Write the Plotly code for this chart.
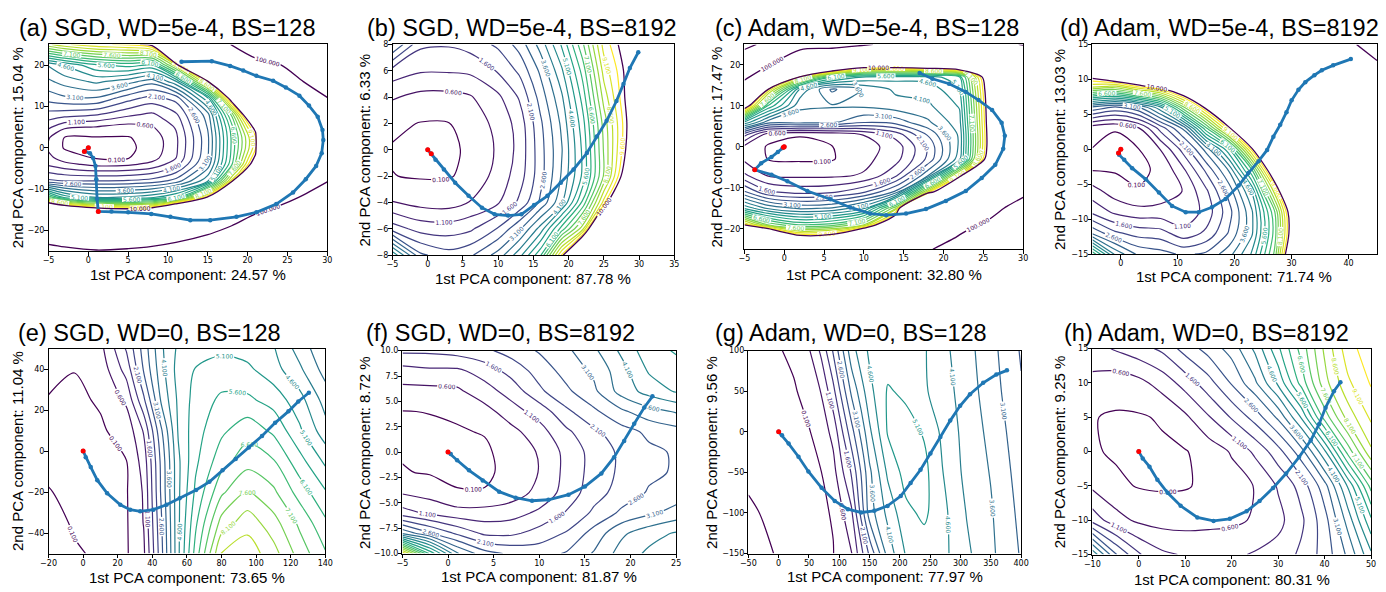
import plotly.graph_objects as go

FIG_W, FIG_H = 1386, 592

# ---------------- panel (a) SGD, WD=5e-4, BS=128 ----------------
A_X = [-5, -3, 1, 5, 8, 11, 15, 18, 21, 24, 30]
A_Y = [-25, -20, -15, -12, -8, -4, -2.5, 0, 2.5, 5, 8, 12, 16, 20, 25]
A_Z = [
    [115, 110, 103, 108, 118, 140, 160, 200, 230, 250, 300],
    [70, 62, 50, 42, 40, 45, 85, 115, 140, 170, 220],
    [14, 12.5, 11, 10.5, 11, 14, 25, 50, 90, 110, 160],
    [7.0, 5.5, 4.6, 4.7, 5.0, 5.8, 10.2, 30, 50, 80, 130],
    [2.2, 2.1, 2.1, 2.15, 2.3, 2.8, 4.5, 9.3, 25, 50, 98],
    [1.0, 0.75, 0.45, 0.5, 0.75, 1.4, 3.3, 6.5, 11, 40, 85],
    [0.75, 0.35, 0.07, 0.08, 0.4, 1.1, 3.1, 6.3, 10.3, 37, 83],
    [0.5, 0.06, 0.02, 0.02, 0.25, 1.0, 3.0, 6.2, 9.5, 35, 80],
    [0.65, 0.09, 0.07, 0.07, 0.3, 1.0, 3.0, 6.2, 9.5, 35, 82],
    [1.2, 0.7, 0.58, 0.4, 0.55, 1.15, 3.15, 6.4, 10.5, 38, 86],
    [1.9, 1.8, 1.63, 1.2, 1.0, 1.5, 3.4, 7.2, 13, 45, 92],
    [2.8, 3.0, 3.05, 2.3, 1.9, 2.3, 5.0, 10.8, 30, 60, 99],
    [3.5, 3.8, 4.2, 3.8, 3.3, 4.5, 9.5, 40, 55, 80, 120],
    [4.15, 4.65, 5.5, 5.8, 5.5, 8.5, 30, 80, 85, 98, 150],
    [8.5, 9.0, 9.5, 9.7, 10.3, 30, 80, 101, 130, 150, 200],
]
A_TX = [11.7, 15.5, 17.8, 19.45, 21.1, 23.2, 24.8, 26.5, 27.7, 28.8, 29.4, 29.5, 29.3, 28.6,
        27.3, 25.7, 23.6, 21.1, 18.6, 15.3, 12.8, 10.3, 7.9, 5.0, 2.9, 1.25, 1.1, 1.0, 0.9,
        0.6, 0.2, -0.5, 0.0]
A_TY = [20.8, 20.95, 19.8, 18.7, 17.4, 16.2, 14.6, 12.6, 10.2, 7.5, 4.3, 1.9, -1.3, -4.4,
        -7.6, -10.8, -13.6, -15.6, -16.7, -17.5, -17.5, -16.7, -16.0, -15.6, -15.4, -15.4,
        -12.4, -7.6, -4.4, -2.5, -1.3, -0.9, 0.0]
A_RX = [1.25, -0.5, 0.0]
A_RY = [-15.4, -0.9, 0.0]

# ---------------- panel (b) SGD, WD=5e-4, BS=8192 ----------------
B_X = [-5, -1, 3, 6, 10, 13, 16, 19, 22, 25, 28.5, 35]
B_Y = [-8, -6, -4, -2, 0, 2, 4, 6, 8]
B_Z = [
    [5.0, 2.7, 2.3, 2.5, 3.3, 4.4, 6.0, 9.65, 14, 20, 25, 40],
    [1.85, 1.4, 1.35, 1.5, 2.15, 3.0, 4.3, 6.3, 8.4, 14, 20, 35],
    [0.62, 0.42, 0.38, 0.62, 1.05, 1.7, 2.7, 4.0, 6.2, 9.3, 14, 30],
    [0.11, 0.06, 0.07, 0.2, 0.8, 1.35, 2.4, 3.65, 5.2, 7.65, 11, 25],
    [0.06, 0.02, 0.04, 0.15, 0.68, 1.25, 2.4, 3.55, 5.2, 7.65, 10.3, 25],
    [0.2, 0.08, 0.09, 0.3, 0.75, 1.3, 2.5, 3.7, 5.4, 7.8, 10.15, 25],
    [0.65, 0.45, 0.45, 0.55, 1.0, 1.65, 2.8, 4.0, 5.8, 8.3, 10.3, 25],
    [1.4, 1.15, 1.15, 1.2, 1.65, 2.2, 3.2, 4.5, 6.3, 8.8, 10.3, 26],
    [3.15, 1.7, 1.65, 1.8, 2.2, 2.8, 3.8, 5.15, 7.0, 9.3, 10.5, 27],
]
B_TX = [29.9, 28.7, 27.8, 26.8, 25.4, 24.0, 22.6, 20.7, 18.9, 17.0, 15.1, 13.3, 11.4, 9.5,
        7.7, 5.8, 3.9, 2.3, 1.1, 0.5, 0.0]
B_TY = [7.4, 6.2, 5.0, 3.7, 2.2, 1.0, -0.25, -1.5, -2.5, -3.5, -4.2, -4.9, -5.0, -4.9,
        -4.4, -3.5, -2.5, -1.5, -0.75, -0.3, 0.0]
B_RX = [0.5, 0.0]
B_RY = [-0.3, 0.0]

# ---------------- panel (c) Adam, WD=5e-4, BS=128 ----------------
C_X = [-5, -2, 2, 6, 10, 14, 18, 22, 25.5, 28, 30]
C_Y = [-25, -22, -19, -15, -11, -7, -3, 0, 3, 6, 10, 14, 17, 20, 25]
C_Z = [
    [45, 35, 25, 25, 35, 60, 95, 125, 140, 150, 155],
    [25, 15, 10.5, 10.8, 15, 40, 80, 102, 120, 130, 135],
    [9.65, 7.5, 6.5, 6.8, 8.0, 13, 50, 90, 105, 115, 120],
    [5.0, 4.0, 3.5, 3.65, 4.5, 8.0, 25, 60, 85, 103, 110],
    [2.65, 1.65, 1.4, 1.5, 2.0, 3.2, 8.8, 15, 50, 80, 95],
    [1.2, 0.55, 0.5, 0.5, 0.65, 1.5, 3.5, 9.3, 25, 50, 70],
    [0.5, 0.08, 0.03, 0.06, 0.45, 0.9, 2.2, 4.4, 10.6, 35, 50],
    [0.45, 0.05, 0.02, 0.09, 0.4, 0.8, 2.15, 4.2, 10.1, 35, 45],
    [1.8, 0.3, 0.12, 0.2, 0.62, 1.3, 2.65, 4.2, 10.1, 30, 40],
    [5.0, 3.3, 3.3, 3.2, 2.65, 2.8, 3.5, 4.4, 10.2, 30, 40],
    [11, 6.0, 3.7, 3.65, 3.7, 3.9, 4.0, 4.65, 10.3, 30, 40],
    [55, 9.5, 4.5, 3.0, 3.65, 4.2, 4.3, 5.0, 10.5, 25, 35],
    [115, 40, 9.0, 6.0, 5.0, 4.8, 4.8, 5.5, 11, 25, 35],
    [130, 105, 30, 14, 11.5, 11.5, 12, 13, 20, 35, 45],
    [90, 110, 125, 120, 104, 90, 80, 80, 85, 95, 102],
]
C_TX = [17.0, 18.6, 20.7, 22.8, 24.4, 26.1, 27.3, 27.7, 27.5, 26.5, 24.8, 22.8, 20.3, 17.8,
        15.3, 12.8, 10.8, 8.3, 5.8, 2.9, 0.4, -1.6, -3.7, -2.9, -1.6, -0.8, -0.2, 0.0]
C_TY = [18.0, 16.6, 15.4, 13.4, 11.4, 9.0, 5.9, 2.7, -0.5, -4.4, -7.6, -10.8, -13.2, -15.2,
        -16.3, -16.7, -16.3, -14.8, -12.8, -10.8, -8.4, -6.8, -5.6, -4.0, -2.5, -1.3, -0.3, 0.0]
C_RX = [-3.7, -0.1, 0.0]
C_RY = [-5.6, -0.1, 0.0]

# ---------------- panel (d) Adam, WD=5e-4, BS=8192 ----------------
D_X = [-5, -1, 3, 7, 11, 15, 19, 23, 27, 30, 36, 45]
D_Y = [-15, -12, -9, -6, -3, 0, 3, 6, 9, 12, 15]
D_Z = [
    [6.5, 4.0, 3.0, 2.8, 2.5, 2.7, 3.4, 4.65, 7.2, 11.6, 20, 30],
    [3.0, 2.2, 1.9, 1.8, 1.3, 1.7, 2.65, 4.0, 6.8, 10.6, 20, 32],
    [1.5, 1.0, 0.8, 0.8, 0.65, 1.3, 2.4, 4.0, 7.0, 10.8, 22, 35],
    [0.8, 0.35, 0.12, 0.3, 0.62, 1.5, 2.8, 4.65, 8.8, 13, 25, 40],
    [0.09, 0.06, 0.04, 0.15, 1.0, 2.2, 3.65, 6.5, 11.5, 17, 30, 45],
    [0.09, 0.05, 0.07, 0.62, 1.8, 3.3, 5.5, 9.8, 15, 22, 35, 50],
    [0.25, 0.11, 0.5, 1.8, 3.2, 6.5, 9.8, 13, 20, 28, 42, 60],
    [3.0, 2.5, 3.0, 4.5, 7.5, 10.3, 13, 17, 25, 35, 50, 70],
    [8.8, 8.5, 9.7, 10.5, 12, 15, 17, 22, 32, 45, 60, 85],
    [12, 15, 14, 13, 14, 18, 22, 30, 40, 50, 70, 97],
    [40, 35, 30, 25, 25, 25, 30, 40, 50, 60, 85, 110],
]
D_TX = [40.4, 37.3, 35.3, 34.0, 32.4, 31.2, 30.0, 29.1, 28.0, 26.8, 25.7, 24.2, 22.4, 20.7,
        18.4, 16.0, 13.7, 11.4, 9.0, 6.7, 4.4, 2.0, 0.6, -0.3, -0.4, 0.0]
D_TY = [12.9, 12.0, 11.3, 10.6, 9.6, 8.5, 7.0, 5.3, 3.5, 1.8, -0.1, -1.7, -3.4, -5.2,
        -7.1, -8.3, -9.0, -9.0, -8.1, -6.2, -4.3, -2.7, -1.5, -0.8, -0.55, 0.0]
D_RX = [-0.4, 0.0]
D_RY = [-0.55, 0.0]

# ---------------- panel (e) SGD, WD=0, BS=128 ----------------
E_X = [-20, -5, 10, 25, 35, 45, 55, 65, 80, 95, 110, 125, 140]
E_Y = [-50, -35, -20, -5, 10, 25, 40, 50]
E_Z = [
    [0.35, 0.13, 0.06, 0.05, 0.5, 2.4, 4.5, 6.3, 8.65, 8.9, 8.3, 7.4, 6.65],
    [0.2, 0.07, 0.04, 0.05, 0.62, 2.5, 4.5, 6.0, 7.8, 8.4, 7.8, 7.0, 6.2],
    [0.11, 0.05, 0.03, 0.06, 0.65, 2.65, 4.5, 5.7, 7.0, 7.65, 7.2, 6.4, 5.65],
    [0.05, 0.02, 0.03, 0.09, 0.8, 2.7, 4.5, 5.5, 6.4, 6.9, 6.65, 5.8, 5.0],
    [0.04, 0.02, 0.05, 0.25, 1.15, 3.0, 4.65, 5.4, 6.0, 6.4, 6.0, 5.2, 4.3],
    [0.08, 0.03, 0.14, 0.7, 2.0, 3.65, 4.7, 5.3, 5.7, 5.7, 5.4, 4.8, 3.9],
    [0.2, 0.11, 0.3, 1.3, 2.65, 3.9, 4.8, 5.12, 5.3, 5.2, 4.8, 4.2, 3.4],
    [0.3, 0.15, 0.45, 1.65, 2.8, 4.0, 4.7, 4.9, 5.0, 4.9, 4.65, 3.9, 3.2],
]
E_TX = [130.5, 124.4, 118.7, 111.0, 103.4, 95.8, 88.2, 80.6, 73.0, 65.3, 55.8, 48.2, 40.6,
        33.0, 27.2, 21.5, 13.9, 8.2, 4.4, 1.5, 0.0]
E_TY = [28.5, 24.2, 19.4, 13.8, 7.4, 1.8, -3.8, -9.4, -15.0, -19.0, -23.0, -26.2, -28.6,
        -29.4, -28.6, -26.2, -20.6, -14.2, -7.8, -3.0, 0.0]
E_RX = [0.0]
E_RY = [0.0]

# ---------------- panel (f) SGD, WD=0, BS=8192 ----------------
F_X = [-5, -2, 1, 4, 7, 10, 13, 16, 19, 22, 25]
F_Y = [-10, -8, -6, -4, -2, 0, 2, 4, 6, 8, 10]
F_Z = [
    [9.5, 6.0, 3.65, 2.8, 2.5, 2.4, 2.65, 3.15, 3.8, 4.2, 4.4],
    [3.5, 2.65, 2.0, 1.5, 1.5, 1.8, 2.15, 2.8, 3.5, 3.9, 4.15],
    [1.3, 1.0, 0.8, 0.8, 0.9, 1.2, 1.65, 2.2, 2.7, 3.0, 3.3],
    [0.55, 0.4, 0.12, 0.12, 0.35, 0.75, 1.3, 1.9, 2.3, 2.65, 2.8],
    [0.13, 0.06, 0.04, 0.04, 0.2, 0.62, 1.25, 1.8, 2.2, 2.5, 2.65],
    [0.06, 0.02, 0.02, 0.04, 0.25, 0.65, 1.25, 1.8, 2.2, 2.5, 2.65],
    [0.05, 0.04, 0.07, 0.12, 0.45, 0.9, 1.5, 2.0, 2.4, 2.7, 2.9],
    [0.09, 0.11, 0.15, 0.4, 0.9, 1.3, 2.0, 2.5, 3.0, 3.4, 3.65],
    [0.45, 0.45, 0.5, 0.9, 1.3, 2.0, 2.5, 3.0, 3.8, 4.3, 4.65],
    [0.9, 1.0, 1.0, 1.3, 1.8, 2.3, 2.8, 3.2, 3.9, 4.65, 4.9],
    [1.7, 1.7, 1.8, 2.0, 2.3, 2.65, 3.0, 3.5, 4.2, 4.9, 5.15],
]
F_TX = [22.4, 21.5, 20.4, 19.3, 18.2, 16.8, 15.0, 13.2, 11.0, 9.2, 7.4, 5.6, 3.8, 2.3, 1.0,
        0.3, 0.0]
F_TY = [5.5, 4.4, 2.8, 1.1, -0.5, -2.1, -3.4, -4.2, -4.7, -4.8, -4.5, -3.9, -2.8, -1.8,
        -0.8, -0.2, 0.0]
F_RX = [0.0]
F_RY = [0.0]

# ---------------- panel (g) Adam, WD=0, BS=128 ----------------
G_X = [-50, 0, 25, 50, 70, 90, 120, 150, 180, 210, 240, 270, 310, 350, 400]
G_Y = [-150, -100, -50, 0, 50, 100]
G_Z = [
    [0.35, 0.05, 0.04, 0.04, 0.06, 0.09, 0.56, 2.2, 3.8, 4.65, 4.85, 4.75, 4.2, 3.7, 3.05],
    [0.14, 0.03, 0.03, 0.04, 0.06, 0.12, 1.0, 3.35, 4.24, 4.98, 5.2, 4.75, 4.08, 3.65, 2.96],
    [0.05, 0.03, 0.04, 0.05, 0.09, 0.42, 1.65, 3.49, 4.7, 5.3, 5.25, 4.62, 3.95, 3.57, 2.86],
    [0.02, 0.03, 0.03, 0.07, 0.32, 0.75, 2.4, 4.0, 5.15, 5.3, 5.05, 4.5, 3.9, 3.47, 2.75],
    [0.03, 0.05, 0.04, 0.31, 0.62, 1.45, 3.2, 4.45, 5.15, 5.0, 4.67, 4.34, 3.85, 3.34, 2.65],
    [0.04, 0.06, 0.22, 0.55, 1.2, 2.15, 3.9, 4.7, 4.85, 4.9, 4.65, 4.25, 3.78, 3.27, 2.55],
]
G_TX = [376.5, 359, 337.4, 315.6, 299.3, 283, 266.7, 250.3, 234, 217.7, 201.4, 179.6, 157.8,
        136, 114.3, 92.5, 70.8, 49, 32.7, 16.4, 5.5, 0.0]
G_TY = [75.7, 70.5, 60.4, 46.2, 32, 13.8, -6.4, -26.6, -46.8, -63, -79.2, -91.3, -97.4,
        -99.4, -95.4, -85.3, -69.1, -48.9, -30.7, -14.5, -4.4, 0.0]
G_RX = [0.0]
G_RY = [0.0]

# ---------------- panel (h) Adam, WD=0, BS=8192 ----------------
H_X = [-10, -5, 0, 5, 10, 15, 20, 25, 30, 35, 40, 45, 50]
H_Y = [-15, -10, -5, 0, 5, 10, 15]
H_Z = [
    [4.5, 2.65, 1.65, 1.2, 1.05, 1.0, 1.0, 1.15, 1.3, 1.7, 2.3, 3.2, 4.5],
    [1.4, 0.8, 0.5, 0.4, 0.4, 0.45, 0.5, 0.65, 0.95, 1.5, 2.4, 3.8, 5.5],
    [0.5, 0.2, 0.07, 0.04, 0.06, 0.2, 0.38, 0.62, 1.15, 1.8, 2.9, 4.65, 6.8],
    [0.15, 0.04, 0.01, 0.02, 0.07, 0.3, 0.65, 1.2, 1.9, 2.9, 4.5, 6.8, 8.5],
    [0.12, 0.05, 0.05, 0.15, 0.5, 1.05, 1.65, 2.3, 3.2, 4.65, 6.8, 8.3, 9.2],
    [0.45, 0.3, 0.45, 0.8, 1.3, 1.9, 2.65, 3.5, 4.7, 6.3, 7.9, 9.0, 9.65],
    [0.9, 1.15, 1.4, 1.7, 2.3, 2.8, 3.3, 4.2, 5.5, 6.8, 8.2, 9.4, 9.9],
]
H_TX = [43.4, 42.0, 40.2, 38.8, 37.0, 34.5, 31.7, 28.9, 26.0, 23.2, 19.6, 16.1, 12.6, 9.0,
        6.2, 4.0, 2.3, 0.85, 0.0]
H_TY = [10.1, 8.8, 6.4, 4.0, 1.6, -0.8, -3.2, -5.3, -7.2, -8.7, -9.8, -10.1, -9.6, -7.9,
        -6.0, -4.1, -2.2, -1.0, 0.0]
H_RX = [0.0]
H_RY = [0.0]

# ---------------- text ----------------
TITLES = ["(a) SGD, WD=5e-4, BS=128", "(b) SGD, WD=5e-4, BS=8192",
          "(c) Adam, WD=5e-4, BS=128", "(d) Adam, WD=5e-4, BS=8192",
          "(e) SGD, WD=0, BS=128", "(f) SGD, WD=0, BS=8192",
          "(g) Adam, WD=0, BS=128", "(h) Adam, WD=0, BS=8192"]
X_PCT = ["24.57", "87.78", "32.80", "71.74", "73.65", "81.87", "77.97", "80.31"]
Y_PCT = ["15.04", "6.33", "17.47", "13.03", "11.04", "8.72", "9.56", "9.25"]

# axis ranges and ticks
X_RANGES = [[-5, 30], [-5, 35], [-5, 30], [-5, 45], [-20, 140], [-5, 25], [-50, 400], [-10, 50]]
Y_RANGES = [[-25, 25], [-8, 8], [-25, 25], [-15, 15], [-50, 50], [-10, 10], [-150, 100], [-15, 15]]
X_TICKS = [[-5, 0, 5, 10, 15, 20, 25, 30], [-5, 0, 5, 10, 15, 20, 25, 30, 35],
           [-5, 0, 5, 10, 15, 20, 25, 30], [0, 10, 20, 30, 40],
           [-20, 0, 20, 40, 60, 80, 100, 120, 140], [-5, 0, 5, 10, 15, 20, 25],
           [-50, 0, 50, 100, 150, 200, 250, 300, 350, 400], [-10, 0, 10, 20, 30, 40, 50]]
Y_TICKS = [[-20, -10, 0, 10, 20], [-8, -6, -4, -2, 0, 2, 4, 6, 8], [-20, -10, 0, 10, 20],
           [-15, -10, -5, 0, 5, 10, 15], [-40, -20, 0, 20, 40],
           [-10, -7.5, -5, -2.5, 0, 2.5, 5, 7.5, 10], [-150, -100, -50, 0, 50, 100],
           [-15, -10, -5, 0, 5, 10, 15]]

# ---------------- layout geometry (pixels) ----------------
BOXES = [(41, 41, 323, 251), (389, 41, 674, 255), (745, 41, 1027, 249), (1097, 41, 1385, 254),
         (41, 350, 321, 558), (399, 352, 676, 558), (749, 352, 1025, 558), (1097, 350, 1379, 559)]
TITLE_POS = [(161, 24), (519.5, 24), (869, 24), (1226, 24),
             (143.5, 334), (498.5, 334), (852.5, 334), (1212, 334)]
XLAB_POS = [(182, 275), (531.5, 279), (886, 275), (1240, 277),
            (181, 582), (537.5, 581), (887, 581), (1238, 584)]
YLAB_POS = [(9.5, 146), (361, 148), (717, 145), (1064, 147.5),
            (9, 454), (360, 455), (711, 455), (1064, 454.5)]

PANELS = [
    (A_X, A_Y, A_Z, A_TX, A_TY, A_RX, A_RY, True),
    (B_X, B_Y, B_Z, B_TX, B_TY, B_RX, B_RY, True),
    (C_X, C_Y, C_Z, C_TX, C_TY, C_RX, C_RY, True),
    (D_X, D_Y, D_Z, D_TX, D_TY, D_RX, D_RY, True),
    (E_X, E_Y, E_Z, E_TX, E_TY, E_RX, E_RY, False),
    (F_X, F_Y, F_Z, F_TX, F_TY, F_RX, F_RY, False),
    (G_X, G_Y, G_Z, G_TX, G_TY, G_RX, G_RY, False),
    (H_X, H_Y, H_Z, H_TX, H_TY, H_RX, H_RY, False),
]

TRAJ_BLUE = "#1f77b4"
DARK_PURPLE = "#440154"
TITLE_FONT = "Liberation Sans, Arial, sans-serif"
TICK_FONT = "DejaVu Sans, sans-serif"

fig = go.Figure()
layout = dict(
    width=FIG_W, height=FIG_H,
    margin=dict(l=0, r=0, t=0, b=0),
    paper_bgcolor="white", plot_bgcolor="white",
    showlegend=False,
    annotations=[],
)

for i, (px, py, pz, tx, ty, rx, ry, outer) in enumerate(PANELS):
    xa = "x" if i == 0 else f"x{i + 1}"
    ya = "y" if i == 0 else f"y{i + 1}"
    fig.add_trace(go.Contour(
        x=px, y=py, z=pz, xaxis=xa, yaxis=ya,
        autocontour=False,
        contours=dict(coloring="lines", start=0.1, end=9.6, size=0.5,
                      showlabels=True, labelformat=".3f",
                      labelfont=dict(size=6, family=TICK_FONT)),
        colorscale="Viridis", showscale=False,
        line=dict(width=1.2, smoothing=0.85),
        hoverinfo="skip",
    ))
    if outer:
        fig.add_trace(go.Contour(
            x=px, y=py, z=pz, xaxis=xa, yaxis=ya,
            autocontour=False,
            contours=dict(coloring="lines", start=10, end=100, size=90,
                          showlabels=True, labelformat=".3f",
                          labelfont=dict(size=6, family=TICK_FONT)),
            colorscale=[[0, DARK_PURPLE], [1, DARK_PURPLE]], showscale=False,
            line=dict(width=1.3, smoothing=0.85),
            hoverinfo="skip",
        ))
    fig.add_trace(go.Scatter(
        x=tx, y=ty, xaxis=xa, yaxis=ya, mode="lines+markers",
        line=dict(color=TRAJ_BLUE, width=2.8),
        marker=dict(color=TRAJ_BLUE, size=4.5),
        hoverinfo="skip",
    ))
    fig.add_trace(go.Scatter(
        x=rx, y=ry, xaxis=xa, yaxis=ya, mode="markers",
        marker=dict(color="red", size=5),
        hoverinfo="skip",
    ))

    L, T, R, B = BOXES[i]
    n = "" if i == 0 else str(i + 1)
    axis_common = dict(
        ticks="outside", ticklen=3.5, tickwidth=0.8, tickcolor="black",
        ticklabelstandoff=-2,
        showline=True, linecolor="black", linewidth=1, mirror=True,
        showgrid=False, zeroline=False,
        tickfont=dict(family=TICK_FONT, size=8, color="black"),
    )
    layout["xaxis" + n] = dict(domain=[L / FIG_W, R / FIG_W], range=X_RANGES[i],
                               anchor=ya, tickvals=X_TICKS[i], **axis_common)
    ydict = dict(domain=[1 - B / FIG_H, 1 - T / FIG_H], range=Y_RANGES[i],
                 anchor=xa, tickvals=Y_TICKS[i], **axis_common)
    if i == 5:
        ydict["tickformat"] = ".1f"
    layout["yaxis" + n] = ydict

    tx0, ty0 = TITLE_POS[i]
    layout["annotations"].append(dict(
        text=TITLES[i], x=tx0 / FIG_W, y=1 - ty0 / FIG_H, xref="paper", yref="paper",
        xanchor="center", yanchor="middle", showarrow=False,
        font=dict(family=TITLE_FONT, size=23.5, color="black")))
    lx, ly = XLAB_POS[i]
    layout["annotations"].append(dict(
        text=f"1st PCA component: {X_PCT[i]} %", x=lx / FIG_W, y=1 - ly / FIG_H,
        xref="paper", yref="paper", xanchor="center", yanchor="middle", showarrow=False,
        font=dict(family=TITLE_FONT, size=15, color="black")))
    vx, vy = YLAB_POS[i]
    layout["annotations"].append(dict(
        text=f"2nd PCA component: {Y_PCT[i]} %", x=vx / FIG_W, y=1 - vy / FIG_H,
        xref="paper", yref="paper", xanchor="center", yanchor="middle", showarrow=False,
        textangle=-90, font=dict(family=TITLE_FONT, size=15, color="black")))

fig.update_layout(**layout)
fig.write_html("out.html")
